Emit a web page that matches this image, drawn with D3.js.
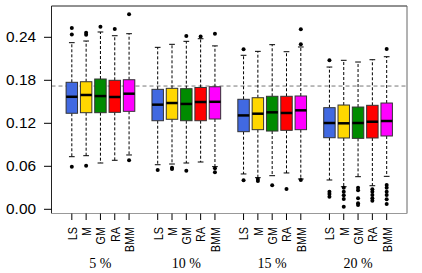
<!DOCTYPE html>
<html><head><meta charset="utf-8">
<script src="https://cdn.jsdelivr.net/npm/d3@7"></script>
<style>body{margin:0;background:#fff;}svg{display:block;}</style>
</head><body>
<svg id="c" width="422" height="273"></svg>
<script>
const methods = ["LS","M","GM","RA","BMM"];
const groups = ["5 %","10 %","15 %","20 %"];
const colors = ["#4169E1","#FFD700","#008B00","#FF0000","#FF00FF"];
const yTicks = [0.00,0.06,0.12,0.18,0.24];
const refLine = 0.172;
// per group, per method
const whiskerLow = [
  [0.0734,0.0748,0.0646,0.0684,0.0758],
  [0.0622,0.0632,0.0646,0.0660,0.0595],
  [0.0493,0.0441,0.0469,0.0507,0.0423],
  [0.0409,0.0315,0.0455,0.0329,0.0460]];
const q1 = [
  [0.1340,0.1348,0.1348,0.1353,0.1367],
  [0.1236,0.1256,0.1236,0.1236,0.1260],
  [0.1083,0.1111,0.1092,0.1102,0.1111],
  [0.0999,0.0995,0.0990,0.0995,0.1023]];
const median = [
  [0.1570,0.1595,0.1580,0.1567,0.1613],
  [0.1460,0.1483,0.1470,0.1497,0.1500],
  [0.1310,0.1334,0.1353,0.1344,0.1381],
  [0.1204,0.1200,0.1204,0.1222,0.1232]];
const q3 = [
  [0.1772,0.1780,0.1818,0.1800,0.1808],
  [0.1674,0.1688,0.1683,0.1700,0.1710],
  [0.1535,0.1557,0.1577,0.1577,0.1581],
  [0.1418,0.1455,0.1427,0.1451,0.1483]];
const whiskerHigh = [
  [0.2325,0.2348,0.2474,0.2422,0.2450],
  [0.2260,0.2302,0.2344,0.2380,0.2280],
  [0.2149,0.2204,0.2297,0.2199,0.2265],
  [0.1985,0.2079,0.2055,0.2087,0.2129]];
const outliers = [
  [[0.253,0.244,0.0595],[0.2464,0.2436,0.0608],[0.2548],[0.2516],[0.272,0.0684]],
  [[0.0548],[0.058,0.0562],[0.2418,0.0539],[0.241],[0.245,0.0572,0.0516]],
  [[0.2232,0.0405],[0.0423,0.0395],[0.0335],[0.0283],[0.2512,0.2302,0.0409]],
  [[0.2079,0.0246,0.0213,0.0176],[0.0301,0.0246,0.0195,0.0144,0.0036],[0.0301,0.0265,0.0153,0.0084,0.006],[0.0279,0.0246,0.020,0.0153,0.012],[0.2237,0.0339,0.0301,0.0246,0.020,0.014,0.0074]]];

const svg = d3.select("#c");
const L = 51.5, R = 407, T = 6, B = 213.5;
const x = d3.scaleLinear().domain([-0.42, 24.42]).range([L, R]);
const y = d3.scaleLinear().domain([0, 0.24]).range([209.3, 37.3]);
const pos = (g, m) => g * 6 + m + 1;
const bw = x(0.8) - x(0);

// reference dashed line
svg.append("line").attr("x1", L).attr("x2", R).attr("y1", y(refLine)).attr("y2", y(refLine))
  .attr("stroke", "#777").attr("stroke-width", 1).attr("stroke-dasharray", "4,3");

const items = [];
groups.forEach((g, gi) => methods.forEach((m, mi) => items.push({gi, mi})));

items.forEach(({gi, mi}) => {
  const cx = x(pos(gi, mi));
  const gg = svg.append("g");
  // whiskers dashed
  gg.append("line").attr("x1", cx).attr("x2", cx).attr("y1", y(q3[gi][mi])).attr("y2", y(whiskerHigh[gi][mi]))
    .attr("stroke", "#000").attr("stroke-dasharray", "3,2");
  gg.append("line").attr("x1", cx).attr("x2", cx).attr("y1", y(q1[gi][mi])).attr("y2", y(whiskerLow[gi][mi]))
    .attr("stroke", "#000").attr("stroke-dasharray", "3,2");
  [whiskerHigh[gi][mi], whiskerLow[gi][mi]].forEach(v => {
    gg.append("line").attr("x1", cx - bw / 4).attr("x2", cx + bw / 4).attr("y1", y(v)).attr("y2", y(v))
      .attr("stroke", "#000").attr("stroke-width", 1);
  });
  gg.append("rect").attr("x", cx - bw / 2).attr("width", bw)
    .attr("y", y(q3[gi][mi])).attr("height", y(q1[gi][mi]) - y(q3[gi][mi]))
    .attr("fill", colors[mi]).attr("stroke", "#333").attr("stroke-width", 1);
  gg.append("line").attr("x1", cx - bw / 2).attr("x2", cx + bw / 2).attr("y1", y(median[gi][mi])).attr("y2", y(median[gi][mi]))
    .attr("stroke", "#000").attr("stroke-width", 2.5);
  outliers[gi][mi].forEach(v => {
    gg.append("circle").attr("cx", cx).attr("cy", y(v)).attr("r", 2).attr("fill", "#000");
  });
});

// frame
svg.append("line").attr("x1", L).attr("x2", R).attr("y1", T).attr("y2", T).attr("stroke", "#222");
svg.append("line").attr("x1", L).attr("x2", L).attr("y1", T).attr("y2", B).attr("stroke", "#222");
svg.append("line").attr("x1", R).attr("x2", R).attr("y1", T).attr("y2", B).attr("stroke", "#666");
svg.append("line").attr("x1", L).attr("x2", R).attr("y1", B).attr("y2", B).attr("stroke", "#999");

// y axis
yTicks.forEach(t => {
  svg.append("line").attr("x1", 44).attr("x2", L).attr("y1", y(t)).attr("y2", y(t)).attr("stroke", "#000");
  svg.append("text").attr("transform", `translate(36,${y(t)}) scale(1.1,1)`)
    .attr("text-anchor", "end").attr("dy", "0.36em")
    .attr("font-family", "Liberation Sans, Arial, sans-serif").attr("font-size", 14).attr("fill", "#000")
    .text(t.toFixed(2));
});

// x axis
items.forEach(({gi, mi}) => {
  const cx = x(pos(gi, mi));
  svg.append("line").attr("x1", cx).attr("x2", cx).attr("y1", B).attr("y2", 220).attr("stroke", "#000");
  svg.append("text").attr("transform", `translate(${cx},227) rotate(-90) scale(0.9,1.12)`)
    .attr("text-anchor", "end").attr("dy", "0.36em")
    .attr("font-family", "Liberation Sans, Arial, sans-serif").attr("font-size", 12).attr("fill", "#000")
    .text(methods[mi]);
});
groups.forEach((g, gi) => {
  svg.append("text").attr("x", x(gi * 6 + 3)).attr("y", 268).attr("text-anchor", "middle")
    .attr("font-family", "Liberation Serif, Times New Roman, serif").attr("font-size", 14).attr("fill", "#000")
    .text(g);
});
</script>
</body></html>
